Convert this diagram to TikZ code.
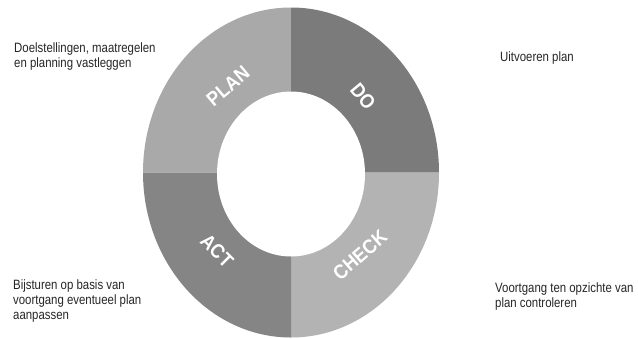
\documentclass[tikz,border=0pt]{standalone}
\usepackage{fontspec}
\setmainfont{Liberation Sans}[FakeStretch=0.845]
\newfontfamily\labfont{Liberation Sans}[FakeStretch=0.9]
\definecolor{plancol}{HTML}{A9A9A9}
\definecolor{docol}{HTML}{7B7B7B}
\definecolor{checkcol}{HTML}{B3B3B3}
\definecolor{actcol}{HTML}{858585}
\tikzset{
  note/.style={anchor=north west, inner sep=0pt, align=left, font=\fontsize{13.5}{15}\selectfont, text=black!85},
  phase/.style={inner sep=0pt, text=white, font=\labfont\bfseries\fontsize{20}{20}\selectfont}
}
\begin{document}
\begin{tikzpicture}[x=1pt,y=-1pt]
\useasboundingbox[fill=white] (0,0) rectangle (638,338);
\coordinate (c) at (291,172.5);
% quadrants (pixel angles: 270 = up, 90 = down)
\fill[plancol] (c) -- ++(-148,0) arc[start angle=180,end angle=270,x radius=148,y radius=165] -- cycle;
\fill[docol] (c) -- ++(0,-165) arc[start angle=270,end angle=360,x radius=148,y radius=165] -- cycle;
\fill[checkcol] (c) -- ++(148,0) arc[start angle=0,end angle=90,x radius=148,y radius=165] -- cycle;
\fill[actcol] (c) -- ++(0,165) arc[start angle=90,end angle=180,x radius=148,y radius=165] -- cycle;
\fill[white] (291,174) ellipse[x radius=74,y radius=82.5];
% phase labels
\node[phase, rotate=40] (plan) at (228,86) {PLAN};
\node[phase, rotate=-50] (do) at (363,96) {DO};
\node[phase, rotate=41] (check) at (360,255) {CHECK};
\node[phase, rotate=-45] (act) at (217,251) {ACT};
% notes
\node[note] (nplan) at (14,43) {Doelstellingen, maatregelen\\en planning vastleggen};
\node[note] (ndo) at (500,52) {Uitvoeren plan};
\node[note] (nact) at (13,280) {Bijsturen op basis van\\voortgang eventueel plan\\aanpassen};
\node[note] (ncheck) at (495,283) {Voortgang ten opzichte van\\plan controleren};
\end{tikzpicture}
\end{document}
